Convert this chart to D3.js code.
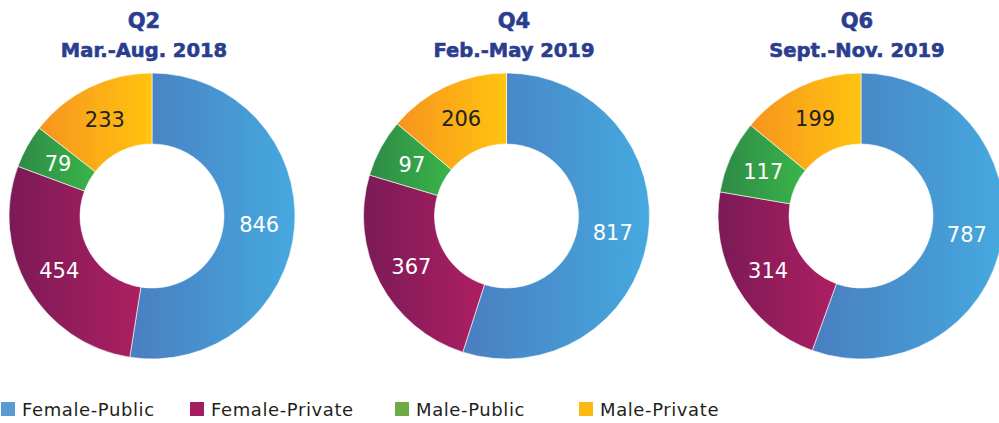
<!DOCTYPE html>
<html>
<head>
<meta charset="utf-8">
<script src="https://cdn.jsdelivr.net/npm/d3@7"></script>
<style>
  html, body { margin: 0; padding: 0; background: #ffffff; }
  svg { display: block; }
</style>
</head>
<body>
<svg id="chart" width="999" height="423"></svg>
<script>
// ---- data ----
const categories = ["Female-Public", "Female-Private", "Male-Public", "Male-Private"];
const periodCodes = ["Q2", "Q4", "Q6"];
const periodLabels = ["Mar.-Aug. 2018", "Feb.-May 2019", "Sept.-Nov. 2019"];
const valuesQ2 = [846, 454, 79, 233];
const valuesQ4 = [817, 367, 97, 206];
const valuesQ6 = [787, 314, 117, 199];
const seriesValues = [valuesQ2, valuesQ4, valuesQ6];

// ---- styles ----
const gradStops = [
  ["#4A7EC0", "#45A9DF"],
  ["#7B1A57", "#AD1F62"],
  ["#2E8A45", "#39B54A"],
  ["#F7941E", "#FFC40F"]
];
const legendColors = ["#5B9BD5", "#A21E5E", "#6DAB46", "#FDB913"];
const labelColors = ["#ffffff", "#ffffff", "#ffffff", "#231F20"];
const titleColor = "#2B3D8F";
const mainFont = "'DejaVu Sans', sans-serif";

const svg = d3.select("#chart");
const defs = svg.append("defs");

const cx = d3.scalePoint().domain(periodCodes).range([152, 861]);
const titleX = d3.scaleOrdinal().domain(periodCodes).range([144, 514, 857]);
const cy = 216;
const outerR = 143, innerR = 72;

const pie = d3.pie().sort(null).value(d => d.v);
const arc = d3.arc().innerRadius(innerR).outerRadius(outerR);
const labelArc = d3.arc().innerRadius((innerR + outerR) / 2).outerRadius((innerR + outerR) / 2);

categories.forEach((c, i) => {
  const g = defs.append("linearGradient")
    .attr("id", "grad" + i)
    .attr("x1", "0%").attr("x2", "100%").attr("y1", "0%").attr("y2", "0%");
  g.append("stop").attr("offset", "0%").attr("stop-color", gradStops[i][0]);
  g.append("stop").attr("offset", "100%").attr("stop-color", gradStops[i][1]);
});

periodCodes.forEach((p, k) => {
  const gx = cx(p);
  const data = categories.map((c, i) => ({ c, i, v: seriesValues[k][i] }));
  const g = svg.append("g").attr("transform", `translate(${gx},${cy})`);
  const arcs = pie(data);
  g.selectAll("path.slice").data(arcs).enter().append("path")
    .attr("class", "slice")
    .attr("d", arc)
    .attr("fill", d => `url(#grad${d.data.i})`)
    .attr("stroke", "#ffffff").attr("stroke-width", 0.6);
  g.selectAll("text.val").data(arcs).enter().append("text")
    .attr("class", "val")
    .attr("transform", d => `translate(${labelArc.centroid(d)})`)
    .attr("text-anchor", "middle")
    .attr("dy", "0.36em")
    .attr("font-family", mainFont)
    .attr("font-size", 21)
    .attr("fill", d => labelColors[d.data.i])
    .text(d => d.data.v);

  const tx = titleX(p);
  svg.append("text")
    .attr("x", tx).attr("y", 28)
    .attr("text-anchor", "middle")
    .attr("font-family", mainFont)
    .attr("font-weight", 700)
    .attr("font-size", 21)
    .attr("fill", titleColor)
    .attr("stroke", titleColor).attr("stroke-width", 0.6)
    .text(p);
  svg.append("text")
    .attr("x", tx).attr("y", 57)
    .attr("text-anchor", "middle")
    .attr("font-family", mainFont)
    .attr("font-weight", 700)
    .attr("font-size", 19.5)
    .attr("fill", titleColor)
    .attr("stroke", titleColor).attr("stroke-width", 0.6)
    .text(periodLabels[k]);
});

// legend
const legendX = d3.scaleOrdinal().domain(categories).range([1, 190, 395, 579]);
const lg = svg.append("g");
categories.forEach((c, i) => {
  const x = legendX(c);
  lg.append("rect").attr("x", x).attr("y", 402).attr("width", 14).attr("height", 14)
    .attr("fill", legendColors[i]);
  lg.append("text").attr("x", x + 21).attr("y", 416)
    .attr("font-family", mainFont)
    .attr("font-size", 18)
    .attr("letter-spacing", 0.6)
    .attr("fill", "#231F20")
    .text(c);
});
</script>
</body>
</html>
